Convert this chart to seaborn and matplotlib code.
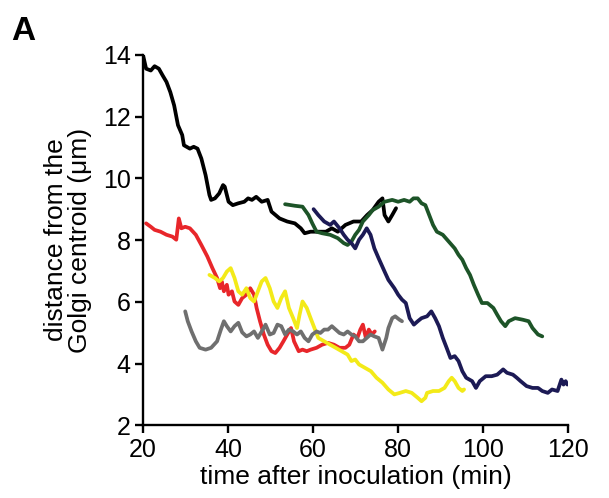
# Distance of particles from the Golgi centroid over time

import pandas as pd
import matplotlib.pyplot as plt
import seaborn as sns

# traced trajectories (time in min, distance in um)
black_t = [20.0, 20.7, 21.8, 22.7, 23.7, 24.6, 25.5, 26.4, 27.3, 28.2, 29.2, 29.6, 31.0, 31.9, 32.8,
           33.7, 34.7, 35.6, 36.0, 36.9, 37.9, 38.8, 39.2, 40.1, 41.1, 42.4, 43.8, 44.7, 45.6, 46.6,
           47.9, 49.3, 50.2, 52.1, 53.9, 55.7, 57.1, 58.0, 59.4, 61.2, 63.0, 64.4, 65.8, 67.6, 69.5,
           71.3, 72.7, 74.0, 75.4, 76.3, 76.8, 77.7, 78.6, 79.5]
black_d = [13.98, 13.55, 13.49, 13.63, 13.55, 13.33, 13.12, 12.79, 12.36, 11.72, 11.40, 11.07, 10.96,
           11.02, 10.96, 10.64, 10.10, 9.46, 9.30, 9.35, 9.51, 9.78, 9.73, 9.24, 9.13, 9.19, 9.24,
           9.35, 9.30, 9.40, 9.24, 9.30, 8.92, 8.70, 8.60, 8.54, 8.38, 8.22, 8.27, 8.27, 8.27, 8.38,
           8.27, 8.49, 8.60, 8.60, 8.81, 8.97, 9.24, 9.35, 8.81, 8.60, 8.81, 9.03]

green_t = [53.4, 55.7, 57.5, 58.9, 59.8, 60.8, 62.1, 64.0, 65.8, 67.2, 68.1, 69.0, 69.9, 70.8, 71.7,
           73.1, 74.0, 75.4, 76.8, 78.6, 80.0, 81.4, 82.7, 83.6, 84.6, 85.5, 86.4, 87.3, 88.2, 89.1,
           90.5, 91.9, 93.3, 94.2, 95.1, 96.0, 96.9, 97.8, 98.8, 99.7, 101.0, 102.4, 103.3, 104.2,
           105.2, 106.0, 107.5, 109.3, 110.7, 111.6, 112.9, 113.9]
green_d = [9.16, 9.11, 9.08, 8.81, 8.54, 8.27, 8.22, 8.17, 8.06, 7.90, 7.84, 7.95, 8.17, 8.33, 8.60,
           8.81, 8.97, 9.08, 9.24, 9.30, 9.24, 9.30, 9.24, 9.35, 9.35, 9.19, 9.13, 8.81, 8.49, 8.27,
           8.17, 7.95, 7.73, 7.52, 7.36, 7.09, 6.87, 6.55, 6.23, 5.96, 5.96, 5.80, 5.58, 5.37, 5.21,
           5.37, 5.47, 5.42, 5.37, 5.15, 4.94, 4.88]

navy_t = [60.1, 61.2, 62.6, 64.0, 64.9, 66.2, 67.2, 68.1, 69.0, 69.9, 70.8, 71.7, 72.6, 73.5, 74.4,
          75.4, 76.8, 77.7, 79.1, 80.0, 80.9, 81.8, 82.7, 83.7, 84.6, 85.5, 86.8, 87.8, 88.7, 89.6,
          90.5, 91.4, 92.3, 93.3, 94.2, 95.1, 96.0, 97.4, 98.3, 99.2, 100.6, 102.0, 103.3, 104.7,
          105.6, 107.0, 107.9, 108.8, 110.2, 111.6, 112.9, 113.9, 115.2, 116.2, 117.5, 118.4,
          118.9, 119.4, 119.8]
navy_d = [9.00, 8.81, 8.60, 8.49, 8.60, 8.38, 8.17, 8.01, 7.90, 7.73, 8.01, 8.17, 8.38, 8.17, 7.73,
          7.41, 6.98, 6.71, 6.44, 6.23, 6.07, 5.96, 5.47, 5.26, 5.37, 5.47, 5.53, 5.69, 5.47, 5.21,
          4.83, 4.51, 4.18, 4.24, 4.08, 3.75, 3.54, 3.43, 3.21, 3.43, 3.59, 3.59, 3.64, 3.81, 3.70,
          3.64, 3.54, 3.43, 3.27, 3.21, 3.21, 3.11, 3.05, 3.16, 3.11, 3.48, 3.32, 3.43, 3.32]

red_t = [20.7, 21.8, 22.7, 24.1, 25.5, 26.9, 27.8, 28.4, 29.0, 29.9, 31.0, 32.4, 33.7, 35.1, 36.3,
         37.4, 38.1, 38.5, 39.0, 39.7, 40.1, 40.9, 41.5, 42.4, 43.3, 44.3, 45.2, 46.1, 46.7, 47.5,
         48.4, 49.3, 50.2, 51.1, 52.1, 53.0, 53.9, 54.8, 55.5, 56.6, 57.5, 58.5, 59.4, 60.8, 62.1,
         63.5, 64.9, 66.2, 67.6, 68.5, 69.5, 70.4, 71.1, 71.7, 72.4, 73.1, 73.8, 74.5]
red_d = [8.54, 8.43, 8.33, 8.27, 8.17, 8.11, 8.01, 8.70, 8.38, 8.43, 8.38, 8.17, 7.84, 7.47, 7.09,
         6.77, 6.44, 6.66, 6.34, 6.55, 6.23, 6.34, 6.01, 5.90, 6.12, 6.23, 6.44, 6.23, 5.80, 5.37,
         4.94, 4.61, 4.40, 4.34, 4.51, 4.72, 4.94, 5.15, 4.72, 4.40, 4.45, 4.40, 4.45, 4.51, 4.61,
         4.67, 4.61, 4.51, 4.51, 4.61, 4.94, 4.83, 5.10, 5.26, 4.83, 5.10, 4.94, 5.04]

yellow_t = [35.6, 36.9, 37.9, 38.8, 39.7, 40.6, 41.5, 42.4, 43.3, 44.3, 45.2, 46.1, 47.0, 47.9, 48.8,
            49.8, 50.7, 51.6, 52.5, 53.4, 54.3, 55.3, 56.2, 56.8, 57.5, 58.5, 59.4, 60.3, 61.2, 62.6,
            64.0, 65.3, 66.7, 68.1, 69.0, 69.9, 70.8, 72.2, 73.6, 74.9, 76.3, 77.7, 79.1, 80.4, 81.8,
            83.2, 84.6, 85.5, 86.4, 86.8, 88.2, 89.6, 90.9, 91.9, 92.6, 93.3, 94.2, 95.1, 95.5]
yellow_d = [6.87, 6.77, 6.66, 6.77, 6.98, 7.09, 6.77, 6.34, 6.23, 6.44, 6.12, 6.01, 6.34, 6.66, 6.77,
            6.44, 6.01, 5.80, 6.12, 6.34, 5.80, 5.47, 5.15, 5.58, 6.01, 5.80, 5.47, 5.15, 4.83, 4.72,
            4.61, 4.51, 4.40, 4.29, 4.08, 4.13, 3.97, 3.86, 3.75, 3.54, 3.38, 3.16, 3.00, 3.05, 3.11,
            3.05, 2.89, 2.78, 2.89, 3.05, 3.11, 3.11, 3.21, 3.43, 3.54, 3.43, 3.21, 3.11, 3.16]

gray_t = [29.9, 30.5, 31.4, 32.4, 33.3, 34.7, 36.0, 37.4, 38.3, 39.0, 39.7, 40.6, 41.5, 42.4, 43.3,
          44.3, 45.2, 46.1, 47.0, 47.9, 48.8, 49.8, 50.7, 51.6, 52.5, 53.4, 54.3, 55.3, 56.2, 57.1,
          58.0, 58.9, 59.8, 60.8, 61.7, 62.6, 63.5, 64.4, 65.3, 66.2, 67.2, 68.1, 69.0, 69.9, 70.8,
          71.7, 72.6, 73.5, 74.4, 75.4, 76.3, 77.2, 77.7, 78.6, 79.3, 80.3, 80.9]
gray_d = [5.69, 5.37, 5.04, 4.72, 4.51, 4.45, 4.51, 4.72, 5.10, 5.37, 5.21, 5.04, 5.21, 5.32, 5.01,
          4.88, 4.94, 5.04, 4.83, 5.04, 5.26, 4.94, 4.99, 5.26, 5.21, 4.94, 5.10, 5.04, 4.94, 5.04,
          4.83, 4.72, 4.94, 5.04, 4.99, 5.10, 5.10, 5.21, 5.10, 4.99, 4.94, 5.04, 4.94, 4.88, 4.72,
          4.72, 4.83, 4.94, 4.88, 4.83, 4.45, 4.83, 5.15, 5.47, 5.53, 5.42, 5.37]

tracks = {
    'black': (black_t, black_d),
    'green': (green_t, green_d),
    'navy': (navy_t, navy_d),
    'red': (red_t, red_d),
    'yellow': (yellow_t, yellow_d),
    'gray': (gray_t, gray_d),
}
colors = {'black': '#000000', 'green': '#1d5428', 'navy': '#1c1a55',
          'red': '#e8262a', 'yellow': '#f3ea18', 'gray': '#6f6f6f'}

df = pd.concat([pd.DataFrame({'t': t, 'd': d, 'track': k}) for k, (t, d) in tracks.items()])

sns.set_style('ticks', {'axes.edgecolor': 'black', 'text.color': 'black',
                        'axes.labelcolor': 'black', 'xtick.color': 'black',
                        'ytick.color': 'black'})
plt.rcParams['font.family'] = ['Liberation Sans', 'DejaVu Sans']

fig = plt.figure(figsize=(6.09, 4.98), dpi=100)
ax = fig.add_axes([0.235, 0.146, 0.698, 0.744])

sns.lineplot(data=df, x='t', y='d', hue='track', palette=colors, estimator=None,
             sort=False, linewidth=2.7, legend=False, ax=ax)

ax.set_xlim(20, 120)
ax.set_ylim(2, 14)
ax.set_xticks(range(20, 121, 20))
ax.set_yticks(range(2, 15, 2))
sns.despine(ax=ax)
for s in ['left', 'bottom']:
    ax.spines[s].set_linewidth(1.7)
ax.tick_params(width=1.7, length=6, labelsize=18, colors='black', pad=3)
ax.set_xlabel('time after inoculation (min)', fontsize=19, labelpad=2)
ax.set_ylabel('distance from the\nGolgi centroid (\u03bcm)', fontsize=19, labelpad=8,
              linespacing=1.0)

fig.text(0.018, 0.92, 'A', fontsize=24, fontweight='bold')

fig.savefig('out.png', dpi=100)
